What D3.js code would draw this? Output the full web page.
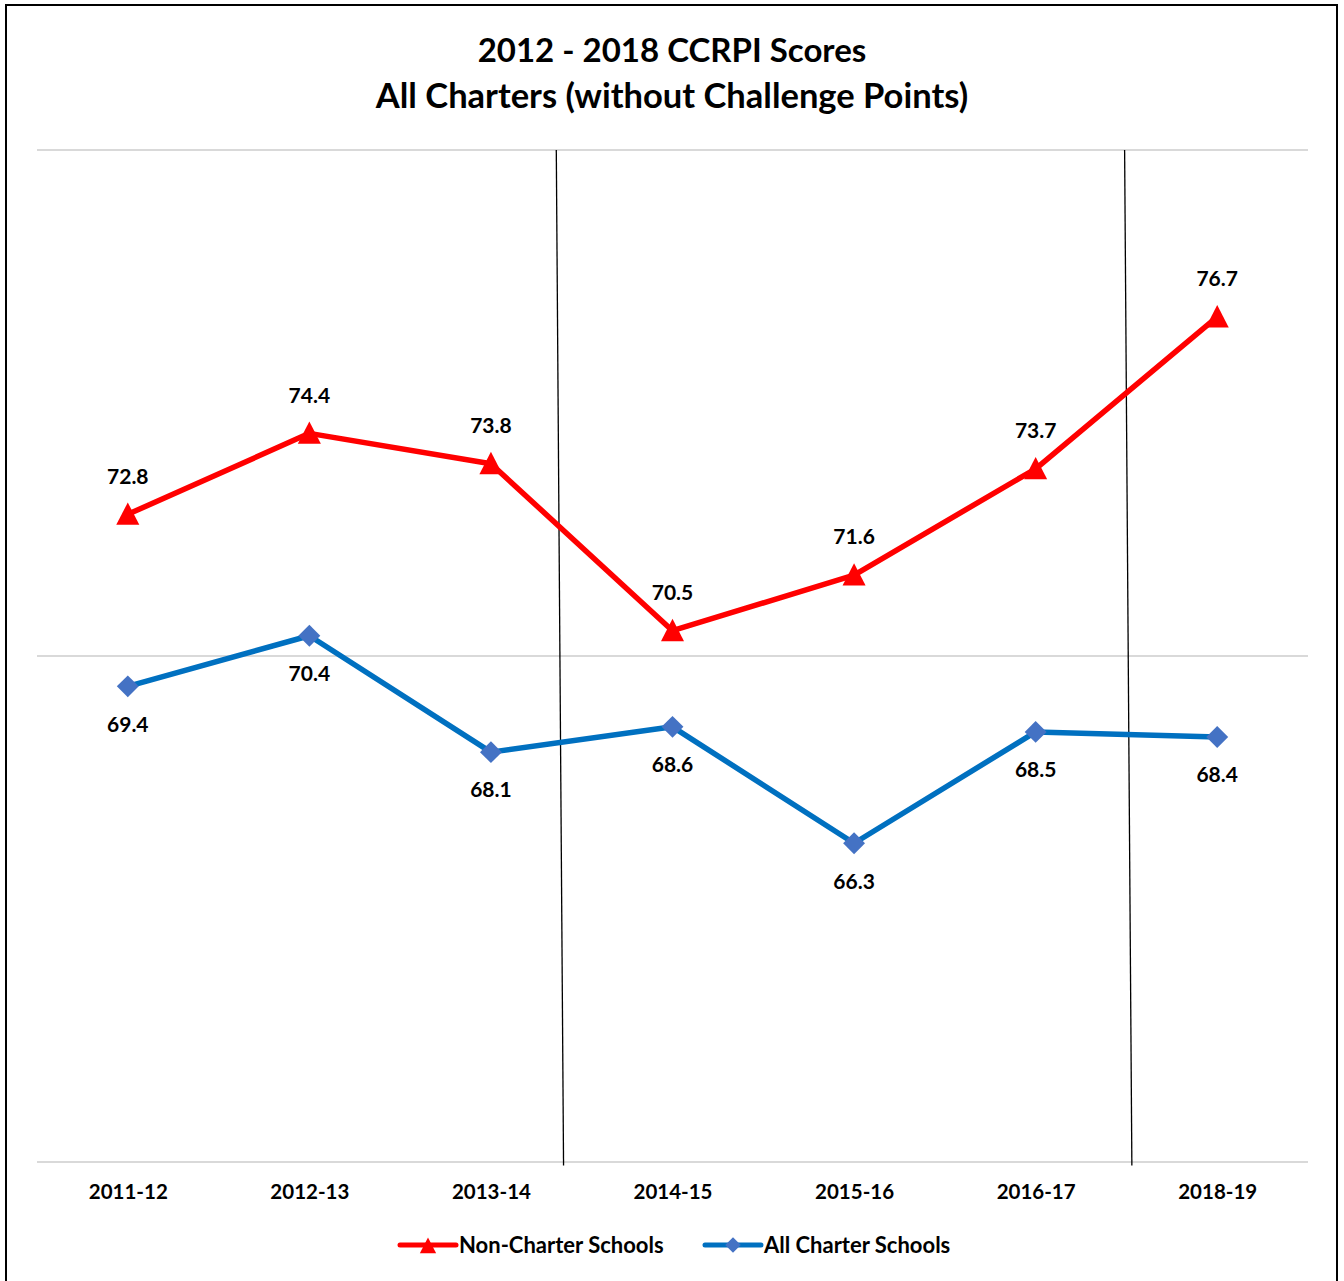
<!DOCTYPE html>
<html>
<head>
<meta charset="utf-8">
<script src="https://cdn.jsdelivr.net/npm/d3@7"></script>
<style>
  html, body { margin: 0; padding: 0; background: #fff; }
  svg { display: block; font-family: Lato, "Open Sans", sans-serif; }
</style>
</head>
<body>
<svg id="chart" width="1344" height="1281"></svg>
<script>
// CCRPI scores
const categories = ["2011-12", "2012-13", "2013-14", "2014-15", "2015-16", "2016-17", "2018-19"];
const nonCharter = [72.8, 74.4, 73.8, 70.5, 71.6, 73.7, 76.7];
const allCharter = [69.4, 70.4, 68.1, 68.6, 66.3, 68.5, 68.4];
const yTicks = [60, 70, 80];
const titleLines = ["2012 - 2018 CCRPI Scores", "All Charters (without Challenge Points)"];
// hand-drawn divider lines, in category-index units (top, bottom)
const dividers = [
  { top: 2.36, bottom: 2.40 },
  { top: 5.49, bottom: 5.53 }
];

const W = 1344, H = 1281;
const margin = { top: 150, right: 36, bottom: 119, left: 37 };
const innerW = W - margin.left - margin.right;
const innerH = H - margin.top - margin.bottom;

const svg = d3.select("#chart");

// outer border
svg.append("rect").attr("x", 6).attr("y", 5).attr("width", 1331).attr("height", 1280)
  .attr("fill", "#fff").attr("stroke", "#000").attr("stroke-width", 2);

svg.append("g").selectAll("text").data(titleLines).enter().append("text")
  .attr("x", W / 2).attr("y", (d, i) => 62 + i * 46)
  .attr("text-anchor", "middle").attr("font-size", (d, i) => i ? 34.5 : 33)
  .attr("font-weight", 700).attr("fill", "#000").text(d => d);

const x = d3.scalePoint().domain(categories).range([0, innerW]).padding(0.5);
const xi = d3.scaleLinear().domain([0, categories.length - 1])
  .range([x(categories[0]), x(categories[categories.length - 1])]);
const y = d3.scaleLinear().domain([60, 80]).range([innerH, 0]);

const root = svg.append("g").attr("transform", `translate(${margin.left},${margin.top})`);

// gridlines
root.append("g").selectAll("line").data(yTicks).enter().append("line")
  .attr("x1", 0).attr("x2", innerW)
  .attr("y1", d => y(d)).attr("y2", d => y(d))
  .attr("stroke", "#d9d9d9").attr("stroke-width", 2);

// category axis labels
const xAxis = root.append("g").attr("transform", `translate(0,${innerH})`)
  .call(d3.axisBottom(x).tickSize(0).tickPadding(22));
xAxis.select(".domain").remove();
xAxis.selectAll("text").attr("font-size", 20.5).attr("font-weight", 700)
  .attr("fill", "#000").attr("font-family", "Lato, 'Open Sans', sans-serif");

// divider lines
root.append("g").selectAll("line").data(dividers).enter().append("line")
  .attr("x1", d => xi(d.top)).attr("y1", y(80))
  .attr("x2", d => xi(d.bottom)).attr("y2", y(59.93))
  .attr("stroke", "#000").attr("stroke-width", 1.3);

// d3's triangle is centred on its centroid; nudge it so its box is centred
const series = [
  { name: "Non-Charter Schools", values: nonCharter, line: "#ff0000", marker: "#ff0000",
    symbol: d3.symbolTriangle, size: 230, shape: "translate(0,3) scale(1,1.12)", dy: -38 },
  { name: "All Charter Schools", values: allCharter, line: "#0070c0", marker: "#4472c4",
    symbol: d3.symbolSquare, size: 240, shape: "rotate(45)", dy: 38 }
];

const line = d3.line().x((d, i) => x(categories[i])).y(d => y(d));

series.forEach(s => {
  const g = root.append("g");
  g.append("path").attr("d", line(s.values))
    .attr("fill", "none").attr("stroke", s.line).attr("stroke-width", 5.5)
    .attr("stroke-linejoin", "round");
  g.selectAll(".m").data(s.values).enter().append("path")
    .attr("transform", (d, i) => `translate(${x(categories[i])},${y(d)}) ${s.shape}`)
    .attr("d", d3.symbol(s.symbol, s.size)).attr("fill", s.marker);
  g.selectAll(".lbl").data(s.values).enter().append("text")
    .attr("x", (d, i) => x(categories[i])).attr("y", d => y(d) + s.dy)
    .attr("dy", "0.35em").attr("text-anchor", "middle")
    .attr("font-size", 21).attr("font-weight", 700).attr("fill", "#000")
    .text(d => d.toFixed(1));
});

// legend
const legendX = [400, 705];
const legend = svg.append("g").attr("transform", "translate(0,1245)");
series.forEach((s, i) => {
  const g = legend.append("g").attr("transform", `translate(${legendX[i]},0)`);
  g.append("line").attr("x1", 0).attr("x2", 56).attr("y1", 0).attr("y2", 0)
    .attr("stroke", s.line).attr("stroke-width", 5).attr("stroke-linecap", "round");
  g.append("path").attr("transform", `translate(28,0) ${s.shape}`)
    .attr("d", d3.symbol(s.symbol, s.size * 0.5)).attr("fill", s.marker);
  g.append("text").attr("x", 59).attr("y", 0).attr("dy", "0.35em")
    .attr("font-size", 22).attr("font-weight", 700).attr("fill", "#000").text(s.name);
});
</script>
</body>
</html>
